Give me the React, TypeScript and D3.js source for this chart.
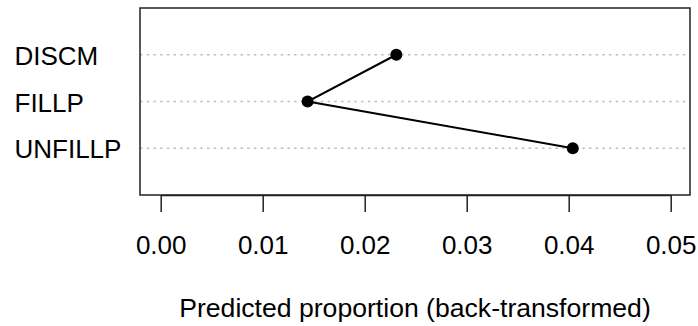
import React, { useEffect, useRef } from "react";
import * as d3 from "d3";

// Data
const categories = ["DISCM", "FILLP", "UNFILLP"];
const proportions = [0.0231, 0.0144, 0.0404];
const xTicks = [0, 0.01, 0.02, 0.03, 0.04, 0.05];
const xLabel = "Predicted proportion (back-transformed)";

export default function App() {
  const svgRef = useRef<SVGSVGElement | null>(null);

  const width = 698;
  const height = 326;
  const box = { left: 140, right: 690, top: 8, bottom: 195 };

  useEffect(() => {
    const svg = d3.select(svgRef.current);
    svg.selectAll("*").remove();

    const font = "'Liberation Sans', Arial, Helvetica, sans-serif";

    const x = d3.scaleLinear().domain([0, 0.05]).range([160.7, 670.7]);
    const y = d3
      .scalePoint<string>()
      .domain(categories)
      .range([box.top, box.bottom])
      .padding(1);

    // grid lines
    svg
      .append("g")
      .selectAll("line")
      .data(categories)
      .enter()
      .append("line")
      .attr("x1", box.left)
      .attr("x2", box.right)
      .attr("y1", (d) => y(d)!)
      .attr("y2", (d) => y(d)!)
      .attr("stroke", "#bdbdbd")
      .attr("stroke-width", 1.3)
      .attr("stroke-dasharray", "2.5,4.2");

    // connecting line
    const pts = categories.map((c, i) => ({ c, v: proportions[i] }));
    svg
      .append("path")
      .datum(pts)
      .attr("fill", "none")
      .attr("stroke", "black")
      .attr("stroke-width", 2)
      .attr(
        "d",
        d3
          .line<{ c: string; v: number }>()
          .x((d) => x(d.v))
          .y((d) => y(d.c)!)
      );

    // points
    svg
      .append("g")
      .selectAll("circle")
      .data(pts)
      .enter()
      .append("circle")
      .attr("cx", (d) => x(d.v))
      .attr("cy", (d) => y(d.c)!)
      .attr("r", 6)
      .attr("fill", "black");

    // box
    svg
      .append("rect")
      .attr("x", box.left)
      .attr("y", box.top)
      .attr("width", box.right - box.left)
      .attr("height", box.bottom - box.top)
      .attr("fill", "none")
      .attr("stroke", "#222")
      .attr("stroke-width", 1.5);

    // x axis
    const ax = svg
      .append("g")
      .attr("transform", `translate(0,${box.bottom})`)
      .call(
        d3
          .axisBottom(x)
          .tickValues(xTicks)
          .tickFormat(d3.format(".2f"))
          .tickSize(17)
          .tickSizeOuter(0)
          .tickPadding(23.5)
      );
    ax.select(".domain").attr("stroke", "#222").attr("stroke-width", 1.5);
    ax.selectAll(".tick line").attr("stroke", "#222").attr("stroke-width", 1.5);
    ax.selectAll(".tick text")
      .attr("fill", "black")
      .style("font-family", font)
      .style("font-size", "26px");

    // category labels
    svg
      .append("g")
      .selectAll("text")
      .data(categories)
      .enter()
      .append("text")
      .attr("x", 14.5)
      .attr("y", (d) => y(d)! + 10)
      .style("font-family", font)
      .style("font-size", "26px")
      .text((d) => d);

    // axis title
    svg
      .append("text")
      .attr("x", (box.left + box.right) / 2)
      .attr("y", 317)
      .attr("text-anchor", "middle")
      .style("font-family", font)
      .style("font-size", "26.6px")
      .text(xLabel);
  }, []);

  return (
    <svg
      ref={svgRef}
      width={width}
      height={height}
      style={{ position: "absolute", left: 0, top: 0, background: "white" }}
    />
  );
}
